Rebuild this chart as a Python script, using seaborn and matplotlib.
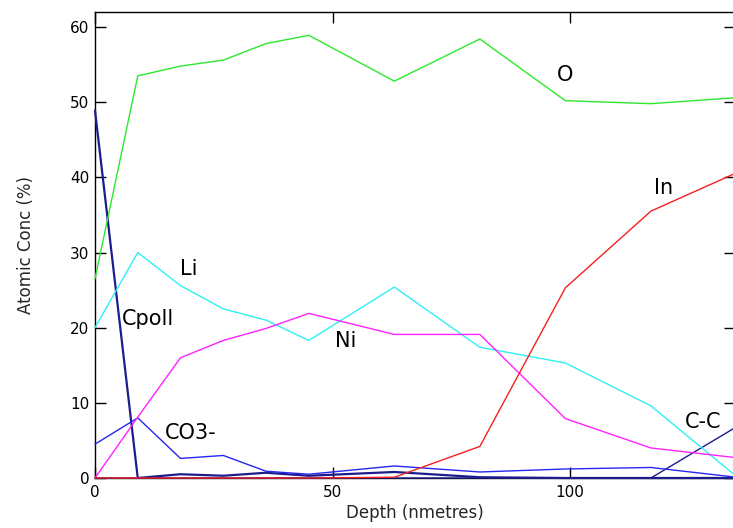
"""Depth profile: atomic concentration of each species vs sputter depth."""
import pandas as pd
import matplotlib
matplotlib.use("Agg")
import matplotlib.pyplot as plt
import seaborn as sns


DEPTH = [0, 9, 18, 27, 36, 45, 63, 81, 99, 117, 135]

O_CONC = [26.5, 53.5, 54.8, 55.6, 57.8, 58.9, 52.8, 58.4, 50.2, 49.8, 50.6]
LI_CONC = [20.0, 30.0, 25.6, 22.5, 21.0, 18.3, 25.4, 17.4, 15.3, 9.6, 0.2]
NI_CONC = [0.0, 8.1, 16.0, 18.3, 19.9, 21.9, 19.1, 19.1, 7.9, 4.0, 2.7]
IN_CONC = [0.0, 0.0, 0.0, 0.0, 0.0, 0.0, 0.1, 4.2, 25.3, 35.5, 40.6]
CO3_CONC = [4.5, 8.0, 2.6, 3.0, 0.9, 0.5, 1.6, 0.8, 1.2, 1.4, 0.1]
CPOLL_CONC = [48.9, 0.0, 0.5, 0.3, 0.7, 0.3, 0.8, 0.1, 0.0, 0.0, 0.0]
CC_CONC = [0.0, 0.0, 0.0, 0.0, 0.0, 0.0, 0.0, 0.0, 0.0, 0.0, 6.8]

SERIES = {
    "C-C": CC_CONC,
    "Cpoll": CPOLL_CONC,
    "CO3-": CO3_CONC,
    "O": O_CONC,
    "Li": LI_CONC,
    "Ni": NI_CONC,
    "In": IN_CONC,
}

COLORS = {
    "O": "#2ee82e",
    "Li": "#2ef0f5",
    "Ni": "#ff22ff",
    "In": "#f52020",
    "CO3-": "#2626ee",
    "Cpoll": "#1c1c8c",
    "C-C": "#1c1c8c",
}

# label text positions (depth, conc) and horizontal alignment
LABELS = [
    ("O", 99.0, 53.6, "center"),
    ("In", 119.6, 38.6, "center"),
    ("Li", 19.8, 27.8, "center"),
    ("Cpoll", 5.7, 21.2, "left"),
    ("Ni", 52.8, 18.2, "center"),
    ("CO3-", 14.7, 6.0, "left"),
    ("C-C", 124.2, 7.4, "left"),
]


def build_frame():
    rows = []
    for name, vals in SERIES.items():
        for d, v in zip(DEPTH, vals):
            rows.append({"depth": d, "conc": v, "species": name})
    return pd.DataFrame(rows)


def main():
    sns.set_style("ticks")
    plt.rcParams["font.family"] = ["DejaVu Sans"]

    df = build_frame()

    fig = plt.figure(figsize=(7.33, 5.28), dpi=100)
    ax = fig.add_axes([0.1296, 0.0947, 1.0027 - 0.1296, 0.9773 - 0.0947])

    for name in SERIES:
        sub = df[df["species"] == name]
        lw = 1.6 if name == "Cpoll" else 1.0
        sns.lineplot(data=sub, x="depth", y="conc", color=COLORS[name],
                     linewidth=lw, ax=ax, legend=False, estimator=None,
                     zorder=3, clip_on=False)

    for text, x, y, ha in LABELS:
        ax.text(x, y, text, ha=ha, va="center", fontsize=15, color="black")

    ax.set_xlim(0, 134.7)
    ax.set_ylim(0, 62)
    ax.set_xticks([0, 50, 100])
    ax.set_yticks(range(0, 61, 10))
    ax.tick_params(direction="in", length=8, width=1, top=True, right=True,
                   labelsize=11, pad=4, colors="black")
    ax.tick_params(axis="x", pad=5)
    for sp in ax.spines.values():
        sp.set_visible(True)
        sp.set_color("black")
        sp.set_linewidth(1.0)

    ax.set_xlabel("Depth (nmetres)", fontsize=12)
    ax.set_ylabel("Atomic Conc (%)", fontsize=12)
    ax.xaxis.set_label_coords(0.5, -0.056)
    ax.yaxis.set_label_coords(-0.094, 0.5)

    fig.savefig("out.png", dpi=100)
    plt.close(fig)


if __name__ == "__main__":
    main()
